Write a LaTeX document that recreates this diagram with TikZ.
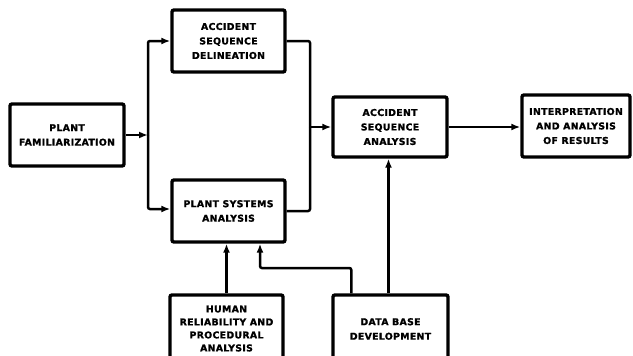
\documentclass[tikz,border=0pt]{standalone}
\usepackage{fontspec}
\setmainfont{DejaVu Sans}
\newfontfamily\blkfont{DejaVu Sans Bold}[LetterSpace=3,FakeBold=1.2]
\usetikzlibrary{arrows.meta}
\begin{document}
\begin{tikzpicture}[x=1pt,y=-1pt,
  blk/.style={draw, line width=3.4pt, rounded corners=2pt, align=center,
    font=\blkfont\fontsize{9.4}{14.5}\selectfont, inner sep=0pt},
  link/.style={line width=2.5pt, rounded corners=2pt},
  flow/.style={link, -{Latex[length=9pt,width=7pt]}}]
\useasboundingbox (0,0) rectangle (633,356);
\clip (0,0) rectangle (633,356);

% process blocks
\node[blk, minimum width=114pt, minimum height=62pt] (pf) at (67,135)
  {PLANT\\FAMILIARIZATION};
\node[blk, minimum width=113pt, minimum height=62pt] (asd) at (228.5,41)
  {ACCIDENT\\SEQUENCE\\DELINEATION};
\node[blk, minimum width=113pt, minimum height=62pt] (psa) at (228.5,211)
  {PLANT SYSTEMS\\ANALYSIS};
\node[blk, minimum width=114pt, minimum height=60pt] (asa) at (390,127)
  {ACCIDENT\\SEQUENCE\\ANALYSIS};
\node[blk, minimum width=108pt, minimum height=62pt] (iar) at (576,126)
  {INTERPRETATION\\AND ANALYSIS\\OF RESULTS};
\node[blk, minimum width=113pt, minimum height=68pt] (hra) at (226.5,329)
  {\raisebox{3.5pt}{\begin{tabular}{@{}c@{}}HUMAN\\[-1.5pt]RELIABILITY AND\\[-1.5pt]PROCEDURAL\\[-1.5pt]ANALYSIS\end{tabular}}};
\node[blk, minimum width=115pt, minimum height=68pt] (dbd) at (390.5,329)
  {DATA BASE\\DEVELOPMENT};

% junction points of the connecting lines
\coordinate (busL) at (148,135);
\coordinate (busR) at (310,127);
\coordinate (jog) at (260,268);

% connectors
\draw[flow] (pf.east) -- (busL);
\draw[flow] (busL) |- (asd.west);
\draw[flow] (busL) |- ([yshift=2pt]psa.west);
\draw[link] (asd.east) -| (busR);
\draw[link] (psa.east) -| (busR);
\draw[flow] (busR) -- (asa.west);
\draw[flow] (asa.east) -- (asa.east -| iar.west);
\draw[flow] (hra.north) -- (hra.north |- psa.south);
\draw[flow] ([xshift=-2pt]dbd.north) -- ([xshift=-2pt]dbd.north |- asa.south);
\draw[flow] ([xshift=20pt]dbd.north west) |- (jog) -- (jog |- psa.south);
\end{tikzpicture}
\end{document}
